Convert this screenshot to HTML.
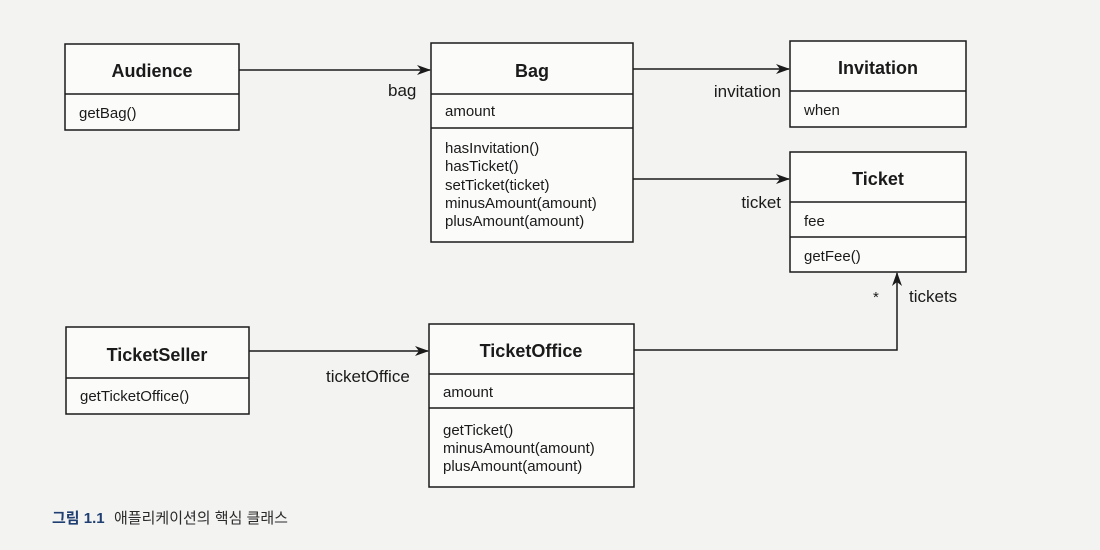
<!DOCTYPE html>
<html><head><meta charset="utf-8"><style>
html,body{margin:0;padding:0;background:#f3f3f1;}
svg{display:block}
text{font-family:"Liberation Sans","Noto Sans CJK KR",sans-serif;fill:#1a1a1a}
.t{font-weight:bold;font-size:18px;text-anchor:middle}
.m{font-size:15px}
.l{font-size:17px}
rect{fill:#fbfbfa;stroke:#1a1a1a;stroke-width:1.5}
line,polyline{stroke:#1a1a1a;stroke-width:1.5;fill:none}
</style></head><body>
<svg width="1100" height="550" viewBox="0 0 1100 550">
<defs><marker id="a" markerWidth="14" markerHeight="10" refX="13" refY="5" orient="auto" markerUnits="userSpaceOnUse"><path d="M0,0 L14,5 L0,10 L4,5 Z" fill="#1a1a1a"/></marker></defs>
<rect x="65" y="44" width="174" height="86"/><line x1="65" y1="94" x2="239" y2="94"/>
<text class="t" x="152" y="77">Audience</text><text class="m" x="79" y="118">getBag()</text>
<rect x="431" y="43" width="202" height="199"/><line x1="431" y1="94" x2="633" y2="94"/><line x1="431" y1="128" x2="633" y2="128"/>
<text class="t" x="532" y="77">Bag</text><text class="m" x="445" y="116">amount</text>
<text class="m" x="445" y="153">hasInvitation()</text><text class="m" x="445" y="171">hasTicket()</text><text class="m" x="445" y="190">setTicket(ticket)</text><text class="m" x="445" y="208">minusAmount(amount)</text><text class="m" x="445" y="226">plusAmount(amount)</text>
<rect x="790" y="41" width="176" height="86"/><line x1="790" y1="91" x2="966" y2="91"/>
<text class="t" x="878" y="74">Invitation</text><text class="m" x="804" y="115">when</text>
<rect x="790" y="152" width="176" height="120"/><line x1="790" y1="202" x2="966" y2="202"/><line x1="790" y1="237" x2="966" y2="237"/>
<text class="t" x="878" y="185">Ticket</text><text class="m" x="804" y="226">fee</text><text class="m" x="804" y="261">getFee()</text>
<rect x="66" y="327" width="183" height="87"/><line x1="66" y1="378" x2="249" y2="378"/>
<text class="t" x="157" y="361">TicketSeller</text><text class="m" x="80" y="401">getTicketOffice()</text>
<rect x="429" y="324" width="205" height="163"/><line x1="429" y1="374" x2="634" y2="374"/><line x1="429" y1="408" x2="634" y2="408"/>
<text class="t" x="531" y="357">TicketOffice</text><text class="m" x="443" y="397">amount</text>
<text class="m" x="443" y="435">getTicket()</text><text class="m" x="443" y="453">minusAmount(amount)</text><text class="m" x="443" y="471">plusAmount(amount)</text>
<line x1="239" y1="70" x2="430" y2="70" marker-end="url(#a)"/>
<text class="l" x="388" y="96">bag</text>
<line x1="633" y1="69" x2="789" y2="69" marker-end="url(#a)"/>
<text class="l" x="781" y="97" text-anchor="end">invitation</text>
<line x1="633" y1="179" x2="789" y2="179" marker-end="url(#a)"/>
<text class="l" x="781" y="208" text-anchor="end">ticket</text>
<line x1="249" y1="351" x2="428" y2="351" marker-end="url(#a)"/>
<text class="l" x="326" y="382">ticketOffice</text>
<polyline points="634,350 897,350 897,273" marker-end="url(#a)"/>
<text class="m" x="873" y="302">*</text>
<text class="l" x="909" y="302">tickets</text>
<text x="52" y="523" style="font-size:15px;font-weight:bold;fill:#1f3f73">그림 1.1</text>
<text x="114" y="523" style="font-size:15px;fill:#2a2a2a">애플리케이션의 핵심 클래스</text>
</svg>
</body></html>
